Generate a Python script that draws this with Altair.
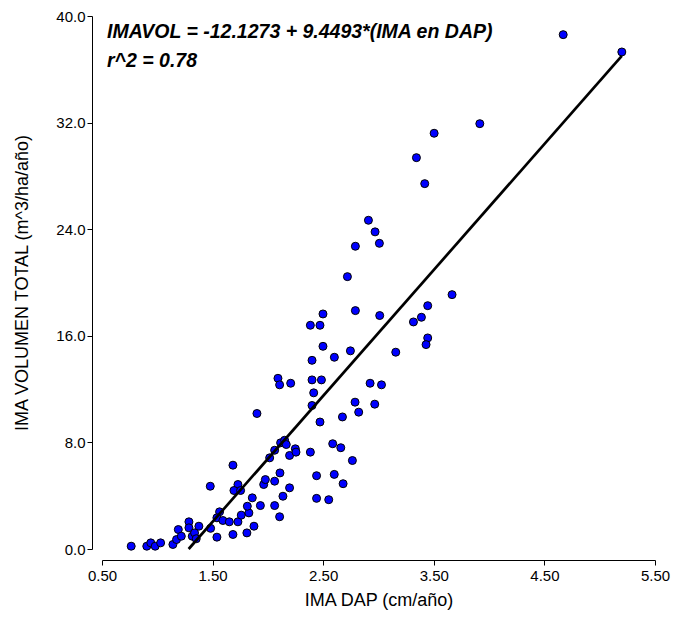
import altair as alt
import pandas as pd

# Regression coefficients (from the annotation)
intercept = -12.1273
slope = 9.4493
r2_text = "r^2 = 0.78"
eq_text = "IMAVOL = -12.1273 + 9.4493*(IMA en DAP)"

# Observations: IMA DAP (cm/año) and IMA volumen total (m^3/ha/año)
ima_dap = [
    0.764, 0.905, 0.941, 0.981, 1.03, 1.141, 1.174, 1.19, 1.217, 1.286,
    1.286, 1.316, 1.337, 1.376, 1.352, 1.479, 1.482, 1.539, 1.563, 1.539,
    1.593, 1.651, 1.684, 1.684, 1.729, 1.693, 1.753, 1.729, 1.759, 1.810,
    1.828, 1.814, 1.859, 1.874, 1.901, 1.932, 1.962, 1.977, 2.016, 2.061,
    2.061, 2.061, 2.109, 2.106, 2.136, 2.115, 2.151, 2.166, 2.196, 2.196,
    2.248, 2.254,
    2.719, 2.498, 2.791, 3.011, 2.384, 2.471, 3.316, 2.498, 2.746, 2.601,
    3.156, 2.399, 2.091, 2.106, 2.206, 2.399, 2.484, 2.924, 3.027, 2.414,
    2.399, 2.788, 2.821, 2.966, 2.471, 2.674, 2.384, 2.586, 2.659, 2.764,
    3.916, 3.503, 3.343, 3.418, 2.909, 2.969, 2.791, 3.008, 3.665, 3.445,
    3.388, 3.445, 3.43, 4.67, 5.20,
    2.44, 2.55, 2.44, 2.60, 2.68,
]
ima_vol = [
    0.21, 0.21, 0.46, 0.21, 0.46, 0.34, 0.71, 1.46, 0.96, 2.04,
    1.59, 0.96, 1.21, 1.71, 0.77, 4.71, 1.55, 0.89, 2.79, 2.34,
    2.14, 2.04, 6.29, 1.09, 4.84, 4.39, 4.39, 2.04, 2.54, 1.21,
    2.71, 3.21, 3.84, 1.71, 10.17, 3.26, 4.84, 5.21, 6.84, 7.41,
    3.26, 5.09, 5.71, 2.42, 3.96, 7.97, 8.16, 7.84, 4.59, 7.02,
    7.52, 7.27,
    20.44, 17.64, 17.89, 17.52, 16.79, 16.79, 17.04, 15.21, 14.87, 14.39,
    14.77, 14.16, 12.81, 12.32, 12.44, 12.69, 12.69, 12.44, 12.32, 11.72,
    10.77, 11.02, 10.27, 10.87, 9.53, 9.91, 7.27, 7.90, 7.60, 6.64,
    31.92, 31.2, 29.37, 27.42, 24.67, 23.8, 22.72, 22.94, 19.09, 18.26,
    17.39, 15.84, 15.34, 38.6, 37.3,
    3.8, 3.7, 5.5, 5.6, 4.9,
]

x_ticks = [0.5, 1.5, 2.5, 3.5, 4.5, 5.5]
y_ticks = [0, 8, 16, 24, 32, 40]

pts = pd.DataFrame({"dap": ima_dap, "vol": ima_vol})

x0 = -intercept / slope
x1 = max(ima_dap)
fit = pd.DataFrame({"dap": [x0, x1], "vol": [intercept + slope * x0, intercept + slope * x1]})

FONT = "Liberation Sans"

x_enc = alt.X(
    "dap:Q",
    scale=alt.Scale(domain=[0.5, 5.5], nice=False, zero=False),
    axis=alt.Axis(
        values=x_ticks, format=".2f", title="IMA DAP (cm/año)", grid=False,
        offset=11, tickSize=5, labelFontSize=15, titleFontSize=18,
        titleFontWeight="normal", titlePadding=8, labelPadding=3,
        labelFlush=False, labelOverlap=False,
        domainColor="black", tickColor="black", labelColor="black", titleColor="black",
        labelFont=FONT, titleFont=FONT,
    ),
)
y_enc = alt.Y(
    "vol:Q",
    scale=alt.Scale(domain=[0, 40], nice=False),
    axis=alt.Axis(
        values=y_ticks, format=".1f", title="IMA VOLUMEN TOTAL (m^3/ha/año)", grid=False,
        offset=10, tickSize=5, labelFontSize=15, titleFontSize=18,
        titleFontWeight="normal", titlePadding=24, labelPadding=2,
        labelFlush=False, labelOverlap=False,
        domainColor="black", tickColor="black", labelColor="black", titleColor="black",
        labelFont=FONT, titleFont=FONT,
    ),
)

points = alt.Chart(pts).mark_point(
    shape="circle", filled=True, fill="#0000FF", stroke="black", strokeWidth=1,
    size=64, opacity=1,
).encode(x=x_enc, y=y_enc)

line = alt.Chart(fit).mark_line(color="black", strokeWidth=2.7).encode(
    x=alt.X("dap:Q"), y=alt.Y("vol:Q")
)

text_style = dict(align="left", baseline="middle", font=FONT, fontSize=19.5,
                  fontStyle="italic", fontWeight="bold", color="black")
text1 = alt.Chart(pd.DataFrame({"t": [eq_text]})).mark_text(**text_style).encode(
    text="t:N", x=alt.value(5), y=alt.value(16)
)
text2 = alt.Chart(pd.DataFrame({"t": [r2_text]})).mark_text(**text_style).encode(
    text="t:N", x=alt.value(5), y=alt.value(45)
)

chart = alt.layer(points, line, text1, text2).properties(
    width=553, height=533,
    autosize=alt.AutoSizeParams(type="none"),
    padding={"left": 102, "top": 16, "right": 18, "bottom": 68},
).configure(background="white").configure_view(stroke=None)

chart.save("out.html", embed_options={"renderer": "svg", "actions": False})
